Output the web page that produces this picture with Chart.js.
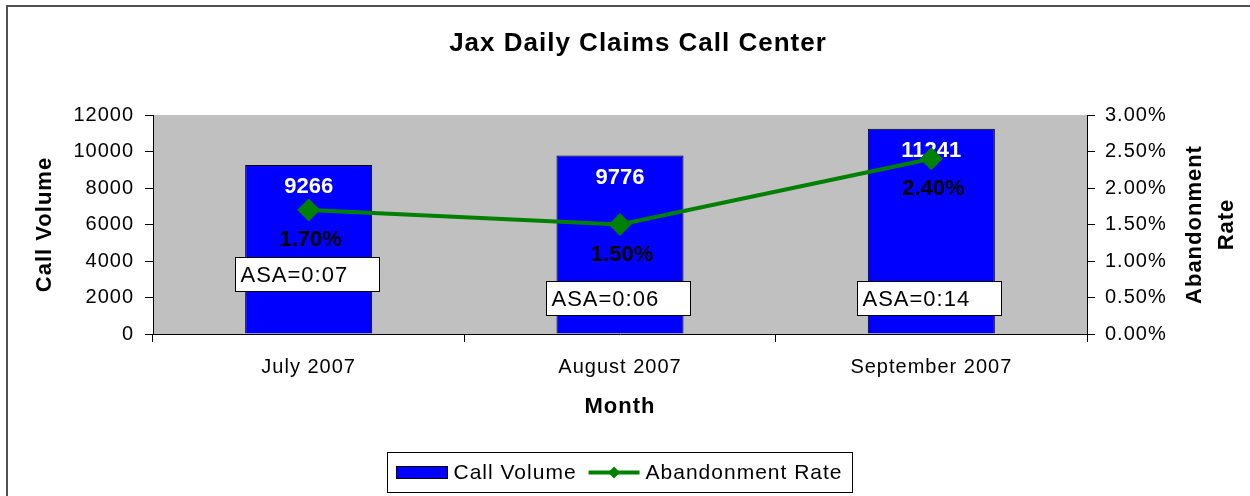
<!DOCTYPE html>
<html>
<head>
<meta charset="utf-8">
<title>Jax Daily Claims Call Center</title>
<script src="https://cdn.jsdelivr.net/npm/chart.js@4.4.0/dist/chart.umd.min.js"></script>
<style>
    html, body { margin: 0; padding: 0; background: #fff; }
    #chart-area { display: block; }
</style>
</head>
<body>
<canvas id="chart-area" width="1250" height="496"></canvas>
<script>
// data
var months = ['July 2007', 'August 2007', 'September 2007'];
var callVolume = [9266, 9776, 11241];
var abandonRate = [1.70, 1.50, 2.40];   // percent
var asaLabels = ['ASA=0:07', 'ASA=0:06', 'ASA=0:14'];
var volumeMax = 12000, volumeStep = 2000;
var rateMax = 3, rateStep = 0.5;

var FONT = "'Liberation Sans', Arial, sans-serif";
Chart.defaults.font.family = FONT;
Chart.defaults.color = '#000';

// background, outer frame, grey plot area
var framePlugin = {
    id: 'frame',
    beforeLayout: function(chart) {
        // the original text is spaced a bit wider
        chart.ctx.letterSpacing = '1px';
    },
    beforeDraw: function(chart) {
        var ctx = chart.ctx, ca = chart.chartArea;
        ctx.letterSpacing = '1px';
        ctx.save();
        ctx.fillStyle = '#fff';
        ctx.fillRect(0, 0, chart.width, chart.height);
        ctx.strokeStyle = '#505050';
        ctx.lineWidth = 2;
        ctx.strokeRect(7, 6, chart.width + 10, chart.height + 10);
        ctx.fillStyle = '#c0c0c0';
        ctx.fillRect(ca.left, ca.top, ca.right - ca.left, ca.bottom - ca.top);
        ctx.restore();
    },
    afterDraw: function(chart) {
        var ctx = chart.ctx, ca = chart.chartArea;
        ctx.save();
        // title
        ctx.fillStyle = '#000';
        ctx.font = 'bold 26px ' + FONT;
        ctx.textAlign = 'center';
        ctx.textBaseline = 'middle';
        ctx.fillText('Jax Daily Claims Call Center', 638, 44);

        // right axis title, reads bottom to top
        ctx.font = 'bold 22px ' + FONT;
        ctx.translate(1211, (ca.top + ca.bottom) / 2);
        ctx.rotate(-Math.PI / 2);
        ctx.fillText('Abandonment', 0, -16);
        ctx.fillText('Rate', 0, 16);
        ctx.restore();

        drawLegend(chart);
    }
};

function drawLegend(chart) {
    var ctx = chart.ctx, ca = chart.chartArea;
    var ds = chart.data.datasets;
    ctx.save();
    ctx.font = '21px ' + FONT;
    var w1 = ctx.measureText(ds[0].label).width;
    var w2 = ctx.measureText(ds[1].label).width;
    var sw = 51;
    var total = 9 + sw + 6 + w1 + 12 + sw + 6 + w2 + 10;
    var x = Math.round((ca.left + ca.right) / 2 - total / 2) + 0.5;
    var y = 452.5, h = 40;
    ctx.fillStyle = '#fff';
    ctx.fillRect(x, y, total, h);
    ctx.strokeStyle = '#000';
    ctx.lineWidth = 1;
    ctx.strokeRect(x, y, total, h);

    var cy = y + h / 2;
    var cx = x + 9;
    ctx.fillStyle = ds[0].backgroundColor;
    ctx.fillRect(cx, cy - 6, sw, 12);
    ctx.strokeRect(cx, cy - 6, sw, 12);
    cx += sw + 6;
    ctx.fillStyle = '#000';
    ctx.textBaseline = 'middle';
    ctx.fillText(ds[0].label, cx, cy + 1);
    cx += w1 + 12;

    ctx.strokeStyle = ds[1].borderColor;
    ctx.lineWidth = 4;
    ctx.beginPath();
    ctx.moveTo(cx, cy);
    ctx.lineTo(cx + sw, cy);
    ctx.stroke();
    ctx.fillStyle = ds[1].borderColor;
    ctx.beginPath();
    var mx = cx + sw / 2, r = 6;
    ctx.moveTo(mx - r, cy);
    ctx.lineTo(mx, cy - r);
    ctx.lineTo(mx + r, cy);
    ctx.lineTo(mx, cy + r);
    ctx.closePath();
    ctx.fill();
    cx += sw + 6;
    ctx.fillStyle = '#000';
    ctx.fillText(ds[1].label, cx, cy + 1);
    ctx.restore();
}

// value labels, rate labels and ASA boxes
var labelPlugin = {
    id: 'labels',
    afterDatasetDraw: function(chart, args) {
        if (args.index !== 0) return;
        var ctx = chart.ctx;
        ctx.save();
        ctx.letterSpacing = '0px';
        ctx.font = 'bold 22px ' + FONT;
        ctx.fillStyle = '#fff';
        ctx.textAlign = 'center';
        ctx.textBaseline = 'middle';
        args.meta.data.forEach(function(bar, i) {
            ctx.fillText(String(callVolume[i]), bar.x, bar.y + 22);
        });
        ctx.restore();
    },
    afterDatasetsDraw: function(chart, args, opts) {
        var ctx = chart.ctx;
        var yScale = chart.scales.y;
        ctx.save();
        ctx.textBaseline = 'middle';

        ctx.letterSpacing = '0px';
        ctx.font = 'bold 22px ' + FONT;
        ctx.fillStyle = '#000';
        ctx.textAlign = 'center';
        chart.getDatasetMeta(1).data.forEach(function(pt, i) {
            ctx.fillText(abandonRate[i].toFixed(2) + '%', pt.x + 2, pt.y + 30);
        });

        ctx.letterSpacing = '1px';
        ctx.font = '22px ' + FONT;
        ctx.textAlign = 'left';
        chart.getDatasetMeta(0).data.forEach(function(bar, i) {
            var bw = 144, bh = 34;
            var bx = Math.round(bar.x - 2 - bw / 2) + 0.5;
            var by = Math.round(yScale.getPixelForValue(opts.level[i]) - bh / 2) + 0.5;
            ctx.fillStyle = '#fff';
            ctx.fillRect(bx, by, bw, bh);
            ctx.strokeStyle = '#000';
            ctx.lineWidth = 1;
            ctx.strokeRect(bx, by, bw, bh);
            ctx.fillStyle = '#000';
            ctx.fillText(asaLabels[i], bx + 5, by + bh / 2 + 1);
        });
        ctx.restore();
    }
};

var config = {
    type: 'bar',
    data: {
        labels: months,
        datasets: [{
            type: 'bar',
            label: 'Call Volume',
            data: callVolume,
            yAxisID: 'y',
            backgroundColor: '#0000ff',
            borderColor: '#000',
            borderWidth: 1,
            categoryPercentage: 0.5,
            barPercentage: 0.816,
            order: 1
        }, {
            type: 'line',
            label: 'Abandonment Rate',
            data: abandonRate,
            yAxisID: 'y1',
            borderColor: '#008000',
            backgroundColor: '#008000',
            borderWidth: 4,
            pointStyle: 'rectRot',
            pointRadius: 11,
            pointBorderWidth: 1,
            pointBackgroundColor: '#008000',
            tension: 0,
            order: 0
        }]
    },
    options: {
        responsive: false,
        animation: false,
        layout: { padding: { top: 115, left: 8, right: 0, bottom: 58 } },
        plugins: {
            legend: { display: false },
            tooltip: { enabled: false },
            labels: { level: [3300, 1970, 1970] }
        },
        scales: {
            x: {
                grid: { offset: true, drawOnChartArea: false, tickLength: 8, color: '#000' },
                border: { color: '#000' },
                ticks: { font: { size: 20 }, padding: 13, color: '#000' },
                title: {
                    display: true, text: 'Month',
                    font: { size: 22, weight: 'bold' },
                    padding: { top: 0, bottom: 18 }
                },
                afterFit: function(s) { s.height = 104; }
            },
            y: {
                position: 'left',
                min: 0, max: volumeMax,
                grid: { drawOnChartArea: false, tickLength: 8, color: '#000' },
                border: { color: '#000' },
                ticks: {
                    stepSize: volumeStep, padding: 11, font: { size: 20 }, color: '#000',
                    callback: function(v) { return String(v); }
                },
                title: {
                    display: true, text: 'Call Volume',
                    font: { size: 22, weight: 'bold' },
                    padding: { top: 24, bottom: 0 }
                },
                afterFit: function(s) { s.width = 145; }
            },
            y1: {
                position: 'right',
                min: 0, max: rateMax,
                grid: { drawOnChartArea: false, tickLength: 8, color: '#000' },
                border: { color: '#000' },
                ticks: {
                    stepSize: rateStep, padding: 10, font: { size: 20 }, color: '#000',
                    callback: function(v) { return v.toFixed(2) + '%'; }
                },
                afterFit: function(s) { s.width = 163; }
            }
        }
    },
    plugins: [framePlugin, labelPlugin]
};

window.onload = function() {
    var ctx = document.getElementById('chart-area').getContext('2d');
    window.myChart = new Chart(ctx, config);
};
</script>
</body>
</html>
